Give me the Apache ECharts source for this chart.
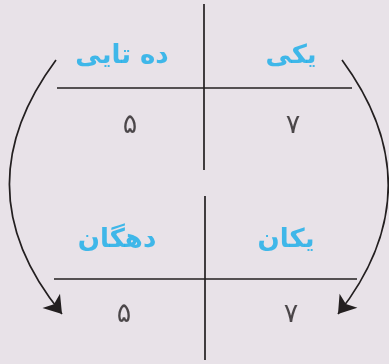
<!DOCTYPE html>
<html>
<head>
<meta charset="utf-8">
<script src="https://cdn.jsdelivr.net/npm/echarts@6/dist/echarts.min.js"></script>
<style>
  html, body { margin: 0; padding: 0; background: #e8e2e8; }
  #chart { width: 389px; height: 364px; }
</style>
</head>
<body>
<div id="chart"></div>
<script>
// column headings, right column first (read right to left)
const topTitles = ['یکی', 'ده تایی']
const bottomTitles = ['یکان', 'دهگان']
// digits under each heading
const topDigits = ['۷', '۵']
const bottomDigits = ['۷', '۵']

// layout of the two tables, in the hidden axis units (1 unit = 1px)
const tables = [
  { titles: topTitles, digits: topDigits, vx: 204, vTop: 4, vBottom: 170, hy: 88, hLeft: 57, hRight: 352,
    titleY: 56, digitY: 126, titleX: [291, 122], digitX: [293, 130] },
  { titles: bottomTitles, digits: bottomDigits, vx: 205, vTop: 196, vBottom: 360, hy: 279, hLeft: 54, hRight: 357,
    titleY: 240, digitY: 315, titleX: [286, 117], digitX: [291, 124] }
]
// curved arrows from the top table down to the bottom one
const arrows = [
  { from: [56, 60], to: [62, 314], curve: -0.39 },
  { from: [342, 60], to: [338, 314], curve: 0.38 }
]

const ink = '#231f20'
const blue = '#14ade9'
const font = 'DejaVu Sans'

let dividers = []
let titleData = []
let digitData = []
tables.forEach(t => {
  dividers.push({ coords: [[t.vx, t.vTop], [t.vx, t.vBottom]] })
  dividers.push({ coords: [[t.hLeft, t.hy], [t.hRight, t.hy]] })
  t.titles.forEach((s, i) => titleData.push({ name: s, value: [t.titleX[i], t.titleY] }))
  t.digits.forEach((s, i) => digitData.push({ name: s, value: [t.digitX[i], t.digitY] }))
})

let chart = echarts.init(document.getElementById('chart'))
chart.setOption({
  backgroundColor: '#e8e2e8',
  animation: false,
  grid: { left: 0, right: 0, top: 0, bottom: 0 },
  xAxis: { type: 'value', min: 0, max: 389, show: false },
  yAxis: { type: 'value', min: 0, max: 364, inverse: true, show: false },
  series: [
    {
      type: 'lines',
      coordinateSystem: 'cartesian2d',
      symbol: 'none',
      lineStyle: { color: ink, width: 1.7, opacity: 1 },
      data: dividers
    },
    {
      type: 'lines',
      coordinateSystem: 'cartesian2d',
      symbol: ['none', 'arrow'],
      symbolSize: 17,
      lineStyle: { color: ink, width: 1.7, opacity: 1 },
      itemStyle: { color: ink },
      data: arrows.map(a => ({ coords: [a.from, a.to], lineStyle: { curveness: a.curve } }))
    },
    {
      type: 'scatter',
      symbolSize: 1,
      itemStyle: { color: 'transparent' },
      label: {
        show: true, position: 'inside', formatter: '{b}',
        color: blue, fontFamily: font, fontWeight: 'bold', fontSize: 26
      },
      data: titleData
    },
    {
      type: 'scatter',
      symbolSize: 1,
      itemStyle: { color: 'transparent' },
      label: {
        show: true, position: 'inside', formatter: '{b}',
        color: ink, fontFamily: font, fontSize: 27
      },
      data: digitData
    }
  ]
})
</script>
</body>
</html>
